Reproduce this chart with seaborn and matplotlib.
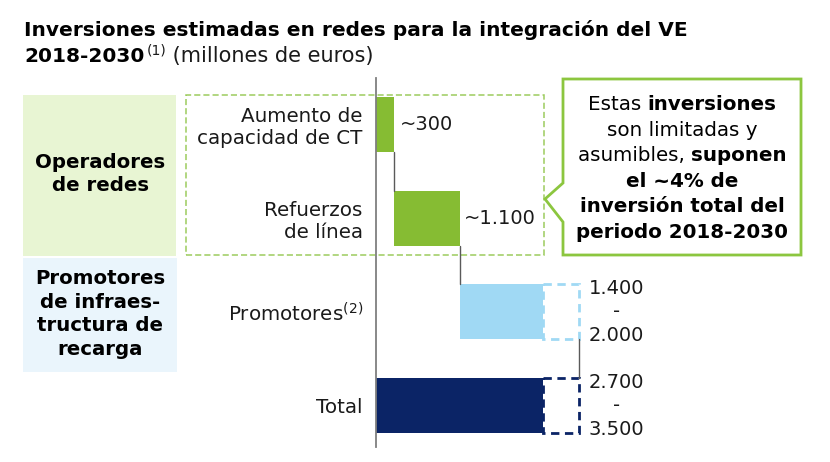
import matplotlib
matplotlib.use("Agg")
import matplotlib.pyplot as plt
from matplotlib.patches import Rectangle, Polygon
import seaborn as sns
import pandas as pd

# Datos (millones de euros)
categorias = ["Aumento de\ncapacidad de CT", "Refuerzos\nde línea", "Promotores$^{(2)}$", "Total"]
aumento_ct = 300
refuerzos = 1100
promotores_min = 1400
promotores_max = 2000
etiquetas_valor = ["~300", "~1.100", "1.400\n-\n2.000", "2.700\n-\n3.500"]

grupos = ["Operadores\nde redes", "Promotores\nde infraes-\ntructura de\nrecarga"]
titulo_1 = "Inversiones estimadas en redes para la integración del VE"
titulo_2 = "2018-2030"
nota_1 = "(1)"
unidades = " (millones de euros)"

# lineas del recuadro: (texto, negrita)
mensaje = [
    [("Estas ", False), ("inversiones", True)],
    [("son limitadas y", False)],
    [("asumibles, ", False), ("suponen", True)],
    [("el ~4% de", True)],
    [("inversión total del", True)],
    [("periodo 2018-2030", True)],
]

verde = "#86BC33"
celeste = "#A0D9F4"
marino = "#0B2466"
colores = [verde, verde, celeste, marino]

# waterfall: inicio, tramo solido y tramo discontinuo
inicio = [0, aumento_ct, aumento_ct + refuerzos, 0]
solido = [aumento_ct, refuerzos, promotores_min, aumento_ct + refuerzos + promotores_min]
extra = [0, 0, promotores_max - promotores_min, promotores_max - promotores_min]

W, H = 830, 462
ALTO = 0.59


def px(x, y):
    return x / W, 1 - y / H


sns.set_style("white")
plt.rcParams["font.family"] = ["DejaVu Sans"]
plt.rcParams["mathtext.default"] = "regular"
negro = "#1A1A1A"

fig = plt.figure(figsize=(W / 100, H / 100), dpi=100)
ax = fig.add_axes([376 / W, (H - 447) / H, 324 / W, 369 / H])
ax.patch.set_alpha(0)

df = pd.DataFrame({"categoria": categorias, "valor": solido})
sns.barplot(data=df, x="valor", y="categoria", hue="categoria", order=categorias,
            hue_order=categorias, palette=colores, saturation=1, width=ALTO,
            linewidth=0, legend=False, ax=ax)

# mover cada barra a su punto de partida
for p in ax.patches:
    i = int(round(p.get_y() + p.get_height() / 2))
    p.set_x(inicio[i])

# tramos de rango (discontinuos)
for i in range(len(categorias)):
    if extra[i] > 0:
        x0 = inicio[i] + solido[i]
        ax.add_patch(Rectangle((x0, i - ALTO / 2), extra[i], ALTO, fill=False,
                               edgecolor=colores[i], lw=2, ls=(0, (3, 2))))

# conectores
for i in range(len(categorias) - 1):
    x = inicio[i] + solido[i] + extra[i]
    ax.plot([x, x], [i + ALTO / 2, i + 1 - ALTO / 2], color="#5A5A5A", lw=1)

# etiquetas de valor
desplaz = [4, 3, 7, 7]
for i in range(len(categorias)):
    x = inicio[i] + solido[i] + extra[i]
    ax.annotate(etiquetas_valor[i], (x, i), xytext=(desplaz[i], 0), textcoords="offset points",
                ha="left", va="center", fontsize=14, color=negro,
                multialignment="center", linespacing=1.3)

ax.set_xlim(0, 324 / 0.0597)
ax.set_ylim(3.443, -0.496)
ax.set_xticks([])
ax.set_xlabel("")
ax.set_ylabel("")
ax.tick_params(axis="y", length=0, pad=9.5, labelsize=14.3, labelcolor=negro)
sns.despine(ax=ax, top=True, right=True, bottom=True)
ax.spines["left"].set_color("#7F7F7F")
ax.spines["left"].set_linewidth(1.3)

# recuadros de grupo a la izquierda
fig.add_artist(Rectangle(px(23, 256), 153 / W, 161 / H, transform=fig.transFigure,
                         facecolor="#E8F5D3", edgecolor="none", zorder=0))
fig.add_artist(Rectangle(px(23, 372), 154 / W, 114 / H, transform=fig.transFigure,
                         facecolor="#EAF5FC", edgecolor="none", zorder=0))
fig.text(*px(100, 174), grupos[0], ha="center", va="center", fontsize=14.2,
         fontweight="bold", color="black", linespacing=1.3)
fig.text(*px(100, 314), grupos[1], ha="center", va="center", fontsize=14.2,
         fontweight="bold", color="black", linespacing=1.32)

# recuadro discontinuo de operadores de redes
fig.add_artist(Rectangle(px(186, 255), 358 / W, 160 / H, transform=fig.transFigure,
                         fill=False, edgecolor="#9CCB5E", lw=1.1, ls=(0, (4, 2)), zorder=0))

# bocadillo
bocadillo = [(563, 79), (801, 79), (801, 255), (563, 255), (563, 222), (545, 199), (563, 183)]
fig.add_artist(Polygon([px(x, y) for x, y in bocadillo], closed=True, transform=fig.transFigure,
                       facecolor="white", edgecolor="#8CC63F", lw=2, zorder=3))

renderer = fig.canvas.get_renderer()


def ancho(t):
    return t.get_window_extent(renderer).width


def linea_mixta(cx, y, trozos, size):
    textos = [fig.text(0, 0, s, fontsize=size, fontweight="bold" if b else "normal",
                       color="black", va="baseline", zorder=4) for s, b in trozos]
    medidas = [ancho(t) for t in textos]
    x = cx - sum(medidas) / 2
    for t, w in zip(textos, medidas):
        t.set_position(px(x, y))
        x += w


for k, trozos in enumerate(mensaje):
    linea_mixta(682, 110 + k * 25.6, trozos, 14.3)

# titulo
fig.text(*px(24, 36), titulo_1, fontsize=14.5, fontweight="bold", color="black", va="baseline")
t2 = fig.text(*px(24, 62), titulo_2, fontsize=14.5, fontweight="bold", color="black", va="baseline")
x = 24 + ancho(t2) + 2
t3 = fig.text(*px(x, 55), nota_1, fontsize=10, color=negro, va="baseline")
x += ancho(t3)
fig.text(*px(x, 62), unidades, fontsize=15, color=negro, va="baseline")

fig.savefig("out.png", dpi=100)
